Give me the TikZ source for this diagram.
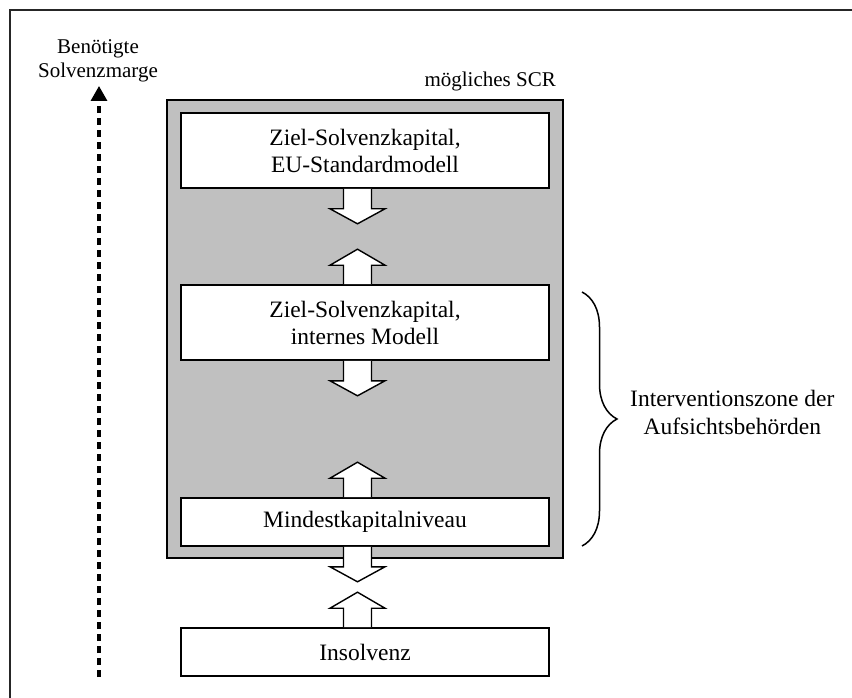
\documentclass[tikz,border=0pt]{standalone}
\usepackage{fontspec}
\setmainfont{Liberation Serif}
\usetikzlibrary{arrows.meta,decorations.pathreplacing}
\definecolor{scrgrau}{RGB}{192,192,192}

\tikzset{
	kasten/.style={draw, fill=white, line width=1.6pt, minimum width=368pt, inner sep=0pt, align=center, font=\fontsize{23.5}{27}\selectfont},
	pfeilrunter/.pic={\draw[fill=white, line width=1.4pt] (-14,0) -- (-14,20) -- (-27.5,20) -- (0,35) -- (27.5,20) -- (14,20) -- (14,0);},
	pfeilrauf/.pic={\draw[fill=white, line width=1.4pt] (-14,0) -- (-14,-19) -- (-27.5,-19) -- (0,-35) -- (27.5,-19) -- (14,-19) -- (14,0);}
}

\begin{document}
\begin{tikzpicture}[x=1pt, y=-1pt]
					\useasboundingbox (0,0) rectangle (852,698);
					\draw[line width=2pt, draw=black!85] (852,10) -- (10,10) -- (10,698);
					% grauer Bereich
					\node[draw, fill=scrgrau, line width=1.6pt, minimum width=396pt, minimum height=458pt] (scr) at (365,329) {};
					\node[anchor=base east, inner sep=0pt, font=\fontsize{21}{24}\selectfont] (scrtext) at (556,87) {mögliches SCR};
					% Kaesten
					\node[kasten, minimum height=75pt] (z1) at (365,150.5) {Ziel-Solvenzkapital,\\EU-Standardmodell};
					\node[kasten, minimum height=75pt] (z2) at (365,322.5) {Ziel-Solvenzkapital,\\internes Modell};
					\node[kasten, minimum height=48pt] (mk) at (365,522) {Mindestkapitalniveau};
					\node[kasten, minimum height=48pt] (ins) at (365,652) {Insolvenz};
					% Blockpfeile
					\foreach \k in {z1,z2,mk}
					\pic at ([xshift=-7.5pt]\k.south) {pfeilrunter};
					\foreach \k in {z2,mk,ins}
					\pic at ([xshift=-7.5pt]\k.north) {pfeilrauf};
					% Solvenzmarge
					\coordinate (mfuss) at (99,677);
					\coordinate (mspitze) at (99,86);
					\draw[line width=3.2pt, dash pattern=on 7pt off 5pt, -{Triangle[length=15pt,width=16pt]}] (mfuss) -- (mspitze);
					\node[anchor=south, inner sep=0pt, align=center, font=\fontsize{21}{24}\selectfont] (marge) at (98,82) {Benötigte\\Solvenzmarge};
					% Interventionszone
					\coordinate (klammeroben) at (582,292);
					\coordinate (klammerunten) at (582,546);
					\draw[decorate, decoration={brace, amplitude=35pt}, line width=1.5pt] (klammeroben) -- (klammerunten);
					\node[anchor=west, inner sep=0pt, align=center, font=\fontsize{23.5}{28}\selectfont] (zone) at (630,412) {Interventionszone der\\Aufsichtsbehörden};
				\end{tikzpicture}
\end{document}
